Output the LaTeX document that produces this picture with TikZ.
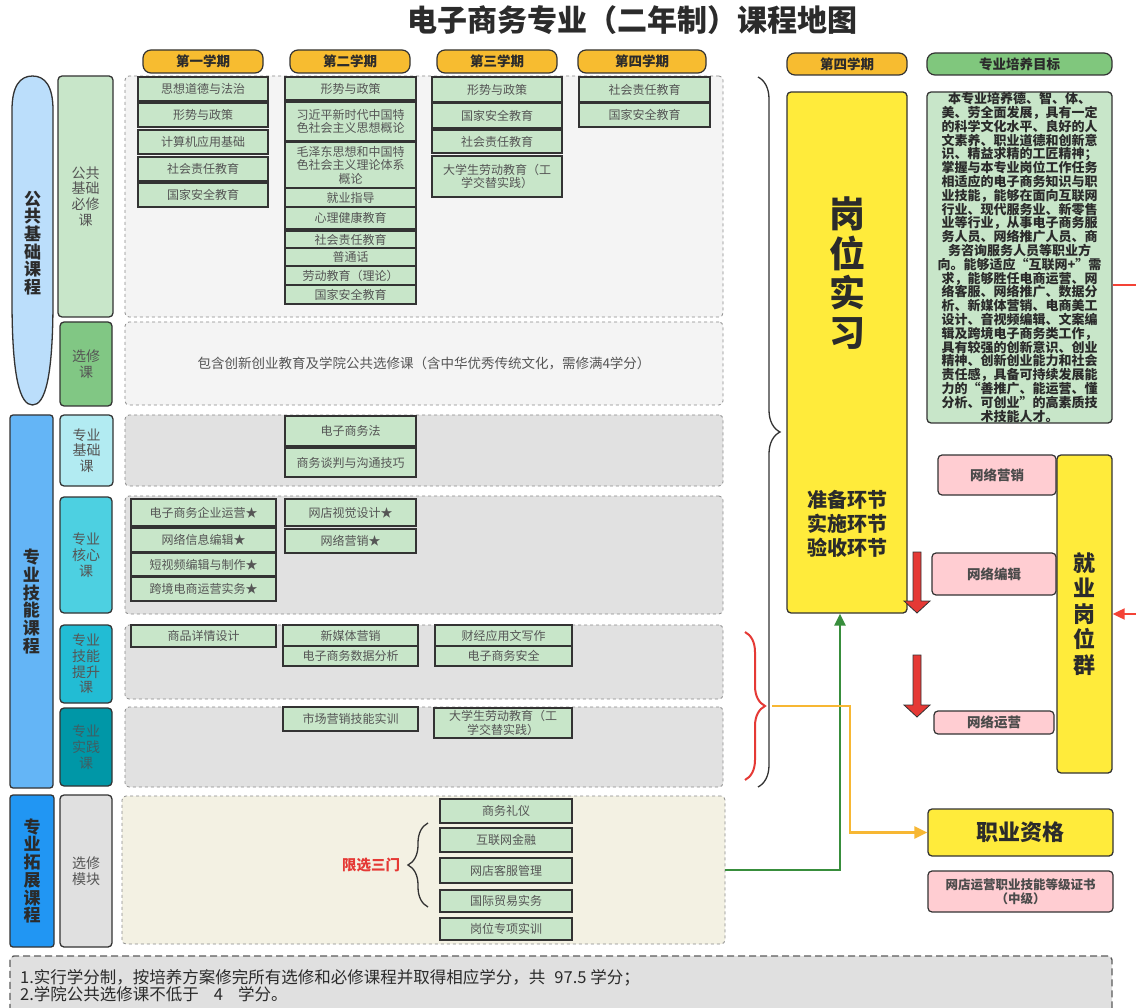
\documentclass[tikz,border=0pt]{standalone}
\usepackage{fontspec}
\setmainfont{Noto Sans CJK SC}
\usetikzlibrary{decorations.pathreplacing,arrows.meta}
\definecolor{bord}{HTML}{333333}
\definecolor{txtdark}{HTML}{2B2B2B}
\definecolor{txtgray}{HTML}{555555}
\definecolor{txtteal}{HTML}{3F5E63}
\definecolor{pillor}{HTML}{F7BC30}
\definecolor{pillgr}{HTML}{80C77D}
\definecolor{cgreen}{HTML}{C8E6C9}
\definecolor{cmid}{HTML}{81C784}
\definecolor{plight}{HTML}{F4F4F4}
\definecolor{pgrayf}{HTML}{E1E1E1}
\definecolor{pcream}{HTML}{F3F1E3}
\definecolor{pborder}{HTML}{8A8A8A}
\definecolor{blue1}{HTML}{BBDEFB}
\definecolor{blue2}{HTML}{64B5F6}
\definecolor{blue3}{HTML}{2196F3}
\definecolor{cyan1}{HTML}{B2EBF2}
\definecolor{cyan2}{HTML}{4DD0E1}
\definecolor{cyan3}{HTML}{22BCD4}
\definecolor{cyan4}{HTML}{0097A7}
\definecolor{lgray}{HTML}{E0E0E0}
\definecolor{yelf}{HTML}{FFEB3B}
\definecolor{pinkf}{HTML}{FFCDD2}
\definecolor{redc}{HTML}{E53935}
\definecolor{redl}{HTML}{F44336}
\definecolor{orl}{HTML}{F7B733}
\definecolor{grl}{HTML}{388E3C}
\newcommand{\mybx}[7]{\node[#1,minimum width={(#4-#2)*1pt},minimum height={(#5-#3)*1pt}] (#6) at ({(#2+#4)/2},{(#3+#5)/2}) {#7};}
\begin{document}
\begin{tikzpicture}[x=1pt,y=-1pt,
  pill/.style={draw=bord,line width=1.2pt,rounded corners=8pt,fill=pillor,font=\fontsize{13.5}{15}\selectfont\bfseries,text=txtdark,inner sep=0pt},
  course/.style={draw=bord,line width=1.3pt,fill=cgreen,font=\fontsize{12}{13.5}\selectfont,text=txtgray,inner sep=0pt,align=center},
  panel/.style={draw=pborder,dashed,line width=0.8pt,rounded corners=4pt,inner sep=0pt},
  cat/.style={draw=bord,line width=1.3pt,rounded corners=4pt,font=\fontsize{14}{15.7}\selectfont,text=txtgray,align=center,inner sep=0pt},
  bigcat/.style={draw=bord,line width=1.3pt,rounded corners=3pt,font=\fontsize{17}{17.7}\selectfont\bfseries,text=txtdark,align=center,inner sep=0pt},
  yelbox/.style={draw=bord,line width=1.3pt,rounded corners=4pt,fill=yelf,text=txtdark,align=center,inner sep=0pt},
  pinkb/.style={draw=bord,line width=1.2pt,rounded corners=4pt,fill=pinkf,font=\fontsize{13.5}{15}\selectfont\bfseries,text=txtdark!85,align=center,inner sep=0pt},
  bracestyle/.style={draw=bord,line width=1.3pt,decorate},
  blockarrow/.style={fill=redc,draw=bord,line width=0.8pt}
]
\useasboundingbox (0,0) rectangle (1136,1008);
\fill[white] (0,0) rectangle (1136,1008);

% title
\node[font=\fontsize{30}{32}\selectfont\bfseries,text=txtdark] (title) at (632,20) {电子商务专业（二年制）课程地图};

% semester pills
\mybx{pill}{143}{50}{263}{73}{s1}{第一学期}
\mybx{pill}{290}{50}{410}{73}{s2}{第二学期}
\mybx{pill}{437}{50}{557}{73}{s3}{第三学期}
\mybx{pill}{578}{50}{706}{73}{s4}{第四学期}
\mybx{pill}{787}{53}{907}{75}{s4b}{第四学期}
\mybx{pill,fill=pillgr}{927}{53}{1112}{75}{gt}{专业培养目标}

% panels
\mybx{panel,fill=plight}{125}{76}{723}{317}{p1}{}
\mybx{panel,fill=plight,font=\fontsize{13.5}{15}\selectfont,text=txtgray}{125}{322}{723}{405}{p2}{包含创新创业教育及学院公共选修课（含中华优秀传统文化，需修满4学分）}
\mybx{panel,fill=pgrayf}{125}{415}{723}{486}{p3}{}
\mybx{panel,fill=pgrayf}{125}{496}{723}{614}{p4}{}
\mybx{panel,fill=pgrayf}{125}{625}{723}{699}{p5}{}
\mybx{panel,fill=pgrayf}{125}{707}{723}{787}{p6}{}
\mybx{panel,fill=pcream}{122}{796}{725}{944}{p7}{}

% left big column (public basic)
\fill[blue1,draw=bord,line width=1.3pt] (12,300) -- (12,110) .. controls (12,86) and (20,76) .. (32.5,76) .. controls (45,76) and (53,86) .. (53,110) -- (53,300) .. controls (53,378) and (45,405) .. (32.5,405) .. controls (20,405) and (12,378) .. (12,300) -- cycle;
\node[font=\fontsize{17}{17.7}\selectfont\bfseries,text=txtdark,align=center] (b1) at (32.5,243) {公\\共\\基\\础\\课\\程};

% categories
\mybx{cat,fill=cgreen}{58}{76}{113}{317}{c1}{公共\\基础\\必修\\课}
\mybx{cat,fill=cmid}{60}{322}{112}{406}{c2}{选修\\课}
\mybx{bigcat,fill=blue2}{10}{415}{53}{788}{b2}{专\\业\\技\\能\\课\\程}
\mybx{cat,fill=cyan1}{60}{415}{113}{486}{c3}{专业\\基础\\课}
\mybx{cat,fill=cyan2}{60}{497}{112}{613}{c4}{专业\\核心\\课}
\mybx{cat,fill=cyan3}{60}{625}{112}{703}{c5}{专业\\技能\\提升\\课}
\mybx{cat,fill=cyan4,text=txtteal}{60}{708}{112}{786}{c6}{专业\\实践\\课}
\mybx{bigcat,fill=blue3}{10}{795}{54}{947}{b3}{专\\业\\拓\\展\\课\\程}
\mybx{cat,fill=lgray}{60}{795}{112}{947}{c7}{选修\\模块}

% semester 1
\mybx{course}{138}{77}{268}{101}{a1}{思想道德与法治}
\mybx{course}{138}{103}{268}{127}{a2}{形势与政策}
\mybx{course}{138}{130}{268}{154}{a3}{计算机应用基础}
\mybx{course}{138}{157}{268}{181}{a4}{社会责任教育}
\mybx{course}{138}{183}{268}{207}{a5}{国家安全教育}
% semester 2
\mybx{course}{285}{77}{416}{100}{d1}{形势与政策}
\mybx{course}{285}{102}{416}{141}{d2}{习近平新时代中国特\\色社会主义思想概论}
\mybx{course}{285}{142}{416}{188}{d3}{毛泽东思想和中国特\\色社会主义理论体系\\概论}
\mybx{course}{285}{188}{416}{207}{d4}{就业指导}
\mybx{course}{285}{207}{416}{229}{d5}{心理健康教育}
\mybx{course}{285}{231}{416}{248}{d6}{社会责任教育}
\mybx{course}{285}{248}{416}{266}{d7}{普通话}
\mybx{course}{285}{266}{416}{285}{d8}{劳动教育（理论）}
\mybx{course}{285}{285}{416}{304}{d9}{国家安全教育}
% semester 3
\mybx{course}{432}{77}{562}{102}{e1}{形势与政策}
\mybx{course}{432}{103}{562}{128}{e2}{国家安全教育}
\mybx{course}{432}{130}{562}{153}{e3}{社会责任教育}
\mybx{course}{432}{156}{562}{197}{e4}{大学生劳动教育（工\\学交替实践）}
% semester 4
\mybx{course}{579}{77}{710}{102}{f1}{社会责任教育}
\mybx{course}{579}{103}{710}{127}{f2}{国家安全教育}

% professional basic
\mybx{course}{285}{416}{416}{446}{g1}{电子商务法}
\mybx{course}{285}{448}{416}{477}{g2}{商务谈判与沟通技巧}
% core
\mybx{course}{131}{499}{276}{526}{h1}{电子商务企业运营★}
\mybx{course}{131}{528}{276}{552}{h2}{网络信息编辑★}
\mybx{course}{131}{553}{276}{576}{h3}{短视频编辑与制作★}
\mybx{course}{131}{577}{276}{601}{h4}{跨境电商运营实务★}
\mybx{course}{285}{499}{416}{526}{h5}{网店视觉设计★}
\mybx{course}{285}{529}{416}{553}{h6}{网络营销★}
% skill upgrade
\mybx{course}{131}{625}{276}{647}{k1}{商品详情设计}
\mybx{course}{283}{625}{418}{646}{k2}{新媒体营销}
\mybx{course}{283}{646}{418}{666}{k3}{电子商务数据分析}
\mybx{course}{435}{625}{572}{646}{k4}{财经应用文写作}
\mybx{course}{435}{646}{572}{666}{k5}{电子商务安全}
% practice
\mybx{course}{283}{707}{418}{731}{m1}{市场营销技能实训}
\mybx{course}{434}{708}{572}{738}{m2}{大学生劳动教育（工\\学交替实践）}
% extension electives
\mybx{course}{440}{799}{572}{823}{n1}{商务礼仪}
\mybx{course}{440}{828}{572}{852}{n2}{互联网金融}
\mybx{course}{440}{858}{572}{883}{n3}{网店客服管理}
\mybx{course}{440}{890}{572}{912}{n4}{国际贸易实务}
\mybx{course}{440}{918}{572}{940}{n5}{岗位专项实训}
\node[font=\fontsize{14.5}{16}\selectfont\bfseries,text=redc] (xx) at (371,865) {限选三门};
\draw[bracestyle,decoration={brace,amplitude=20pt}] (428,907) -- (428,823);

% braces on the right
\draw[bracestyle,decoration={brace,amplitude=22pt}] (758,77) -- (758,787);
\draw[bracestyle,draw=redc,line width=2pt,decoration={brace,amplitude=20pt}] (745,632) -- (745,780);
\coordinate (rbtip) at (772,706);
\coordinate (obend) at (850,706);

% right column
\mybx{yelbox}{787}{92}{907}{613}{gwsx}{}
\node[font=\fontsize{36}{39.5}\selectfont\bfseries,text=txtdark,align=center] (gwsxt) at (847,273) {岗\\位\\实\\习};
\node[font=\fontsize{20}{24}\selectfont\bfseries,text=txtdark,align=center] (gwsxh) at (847,524) {准备环节\\实施环节\\验收环节};

\mybx{course,font=\fontsize{13}{13.8}\selectfont\bfseries,text=txtdark,rounded corners=4pt}{927}{92}{1112}{423}{goal}{本专业培养德、智、体、\\美、劳全面发展，具有一定\\的科学文化水平、良好的人\\文素养、职业道德和创新意\\识、精益求精的工匠精神；\\掌握与本专业岗位工作任务\\相适应的电子商务知识与职\\业技能，能够在面向互联网\\行业、现代服务业、新零售\\业等行业，从事电子商务服\\务人员、网络推广人员、商\\务咨询服务人员等职业方\\向。能够适应“互联网+”需\\求，能够胜任电商运营、网\\络客服、网络推广、数据分\\析、新媒体营销、电商美工\\设计、音视频编辑、文案编\\辑及跨境电子商务类工作，\\具有较强的创新意识、创业\\精神、创新创业能力和社会\\责任感，具备可持续发展能\\力的“善推广、能运营、懂\\分析、可创业”的高素质技\\术技能人才。}

\mybx{yelbox,font=\fontsize{22}{25.4}\selectfont\bfseries}{1057}{455}{1112}{773}{jygw}{就\\业\\岗\\位\\群}
\mybx{pinkb}{938}{455}{1056}{495}{wlyx}{网络营销}
\mybx{pinkb}{932}{553}{1056}{595}{wlbj}{网络编辑}
\mybx{pinkb}{934}{711}{1054}{734}{wlyy}{网络运营}
\mybx{yelbox,font=\fontsize{22}{24}\selectfont\bfseries}{928}{809}{1113}{856}{zyzg}{职业资格}
\mybx{pinkb,font=\fontsize{12.5}{14}\selectfont\bfseries}{928}{871}{1113}{912}{cert}{网店运营职业技能等级证书\\（中级）}

% red block arrows
\draw[blockarrow] (913,552) -- (921,552) -- (921,601) -- (930,601) -- (917,613) -- (904,601) -- (913,601) -- cycle;
\draw[blockarrow] (913,655) -- (921,655) -- (921,705) -- (930,705) -- (917,717) -- (904,705) -- (913,705) -- cycle;

% connectors
\draw[grl,line width=2.6pt,-{Triangle[length=12pt,width=11pt]}] (p7.east) -| ([xshift=-7pt]gwsx.south);
\draw[orl,line width=2.6pt,-{Triangle[length=13pt,width=12pt]}] (rbtip) -- (obend) |- (zyzg.west);
\coordinate (roff1) at (1150,285);
\coordinate (roff2) at (1150,614);
\draw[redl,line width=2pt,-{Triangle[length=12pt,width=11pt]}] (goal.east |- roff1) -- (roff1) -- (roff2) -- (jygw.east |- roff2);

% notes
\mybx{panel,fill=lgray,draw=bord!80,line width=1.4pt,dash pattern=on 7pt off 4pt}{10}{956}{1112}{1040}{notes}{}
\node[anchor=west,align=left,font=\fontsize{16.5}{17.5}\selectfont,text=txtdark,inner sep=0pt] (notetext) at (20,985.5) {1.实行学分制，按培养方案修完所有选修和必修课程并取得相应学分，共\hspace{9pt}97.5\hspace{4pt}学分；\\2.学院公共选修课不低于\hspace{15pt}4\hspace{15pt}学分。};
\end{tikzpicture}
\end{document}
